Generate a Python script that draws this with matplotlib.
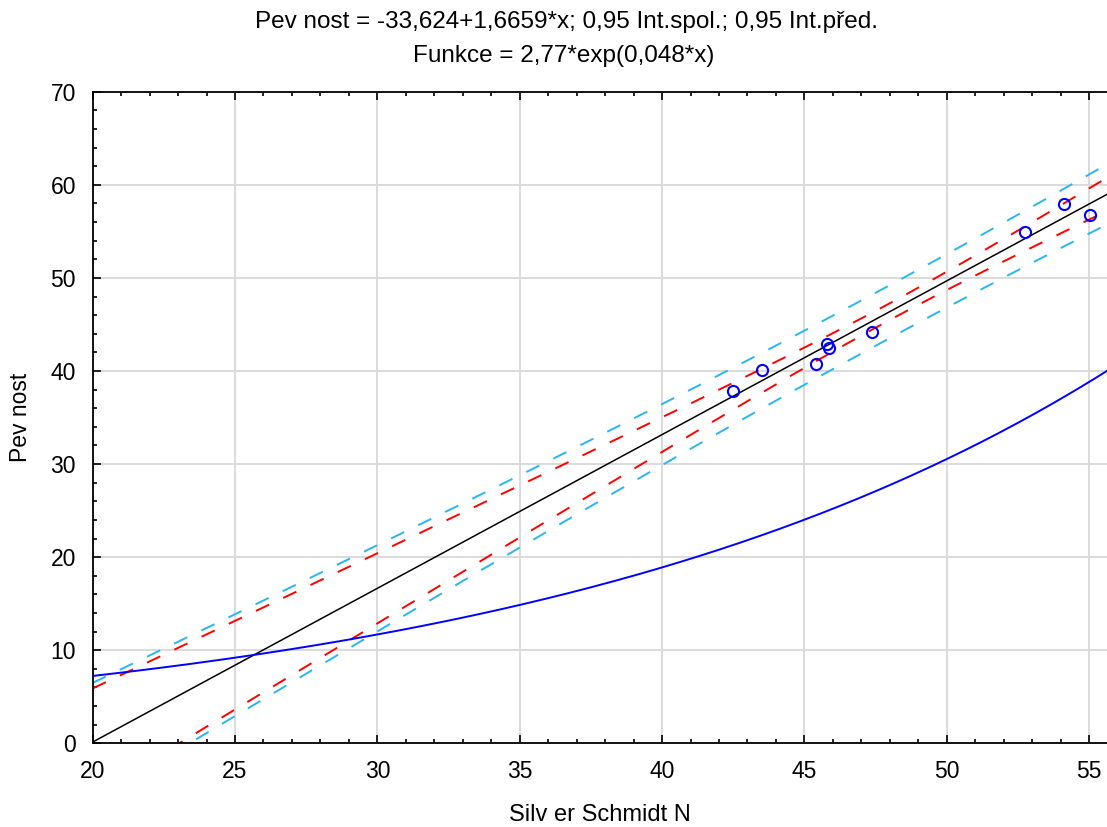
import numpy as np
import matplotlib
matplotlib.use("Agg")
import matplotlib.pyplot as plt
from matplotlib.ticker import MultipleLocator

schmidt_n = [42.50, 43.50, 45.42, 45.79, 45.87, 47.36, 52.75, 54.13, 55.03]
pevnost = [37.9, 40.1, 40.7, 42.9, 42.5, 44.2, 54.9, 57.95, 56.8]

title_lines = ["Pev nost = -33,624+1,6659*x; 0,95 Int.spol.; 0,95 Int.před.",
               "Funkce = 2,77*exp(0,048*x)"]
x_ticks = [20, 25, 30, 35, 40, 45, 50, 55]
y_ticks = [0, 10, 20, 30, 40, 50, 60, 70]

# printed function from the title
exp_a = 2.77
exp_b = 0.048
t_975_df7 = 2.3646

plt.rcParams['font.family'] = ['Liberation Sans', 'DejaVu Sans']

x = np.array(schmidt_n)
y = np.array(pevnost)
n = len(x)
slope, icpt = np.polyfit(x, y, 1)
resid = y - (icpt + slope * x)
s = np.sqrt(np.sum(resid ** 2) / (n - 2))
xbar = x.mean()
sxx = np.sum((x - xbar) ** 2)

xs = np.linspace(20, 56, 400)
fit = icpt + slope * xs
ci = t_975_df7 * s * np.sqrt(1.0 / n + (xs - xbar) ** 2 / sxx)
pi = t_975_df7 * s * np.sqrt(1 + 1.0 / n + (xs - xbar) ** 2 / sxx)

fig = plt.figure(figsize=(11.07, 8.27), dpi=100)
ax = fig.add_axes([0.0837, 0.1012, 0.9163, 0.7879])

ax.plot(xs, fit, color='black', lw=1.1, zorder=3)
for sign in (1, -1):
    ax.plot(xs, fit + sign * pi, color='#29b6f0', lw=1.4, dashes=(7.5, 8), zorder=2)
    ax.plot(xs, fit + sign * ci, color='#ff0000', lw=1.4, dashes=(7.5, 8), zorder=2)
ax.plot(xs, exp_a * np.exp(exp_b * xs), color='#0000ff', lw=1.4, zorder=3)
ax.plot(x, y, 'o', mfc='none', mec='#0000ff', mew=1.5, ms=8, zorder=4)

ax.set_xlim(20, 55.63)
ax.set_ylim(0, 70)
ax.set_xticks(x_ticks)
ax.set_yticks(y_ticks)
ax.xaxis.set_minor_locator(MultipleLocator(1))
ax.yaxis.set_minor_locator(MultipleLocator(2))
ax.tick_params(which='both', direction='in', top=True, right=False,
               labelsize=16.5, width=1.2, color='black')
ax.tick_params(which='major', length=6, pad=12)
ax.tick_params(which='minor', length=3)
ax.grid(True, which='major', color='#dadada', lw=1.4)
ax.set_axisbelow(True)
ax.spines['right'].set_visible(False)
for side in ('left', 'bottom', 'top'):
    ax.spines[side].set_linewidth(1.3)

ax.set_xlabel("Silv er Schmidt N", fontsize=17, labelpad=15)
ax.set_ylabel("Pev nost", fontsize=16.5, labelpad=13)
fig.text(0.512, 0.973, title_lines[0], ha='center', va='center', fontsize=17.5)
fig.text(0.509, 0.932, title_lines[1], ha='center', va='center', fontsize=17.5)

fig.savefig("out.png", dpi=100)
